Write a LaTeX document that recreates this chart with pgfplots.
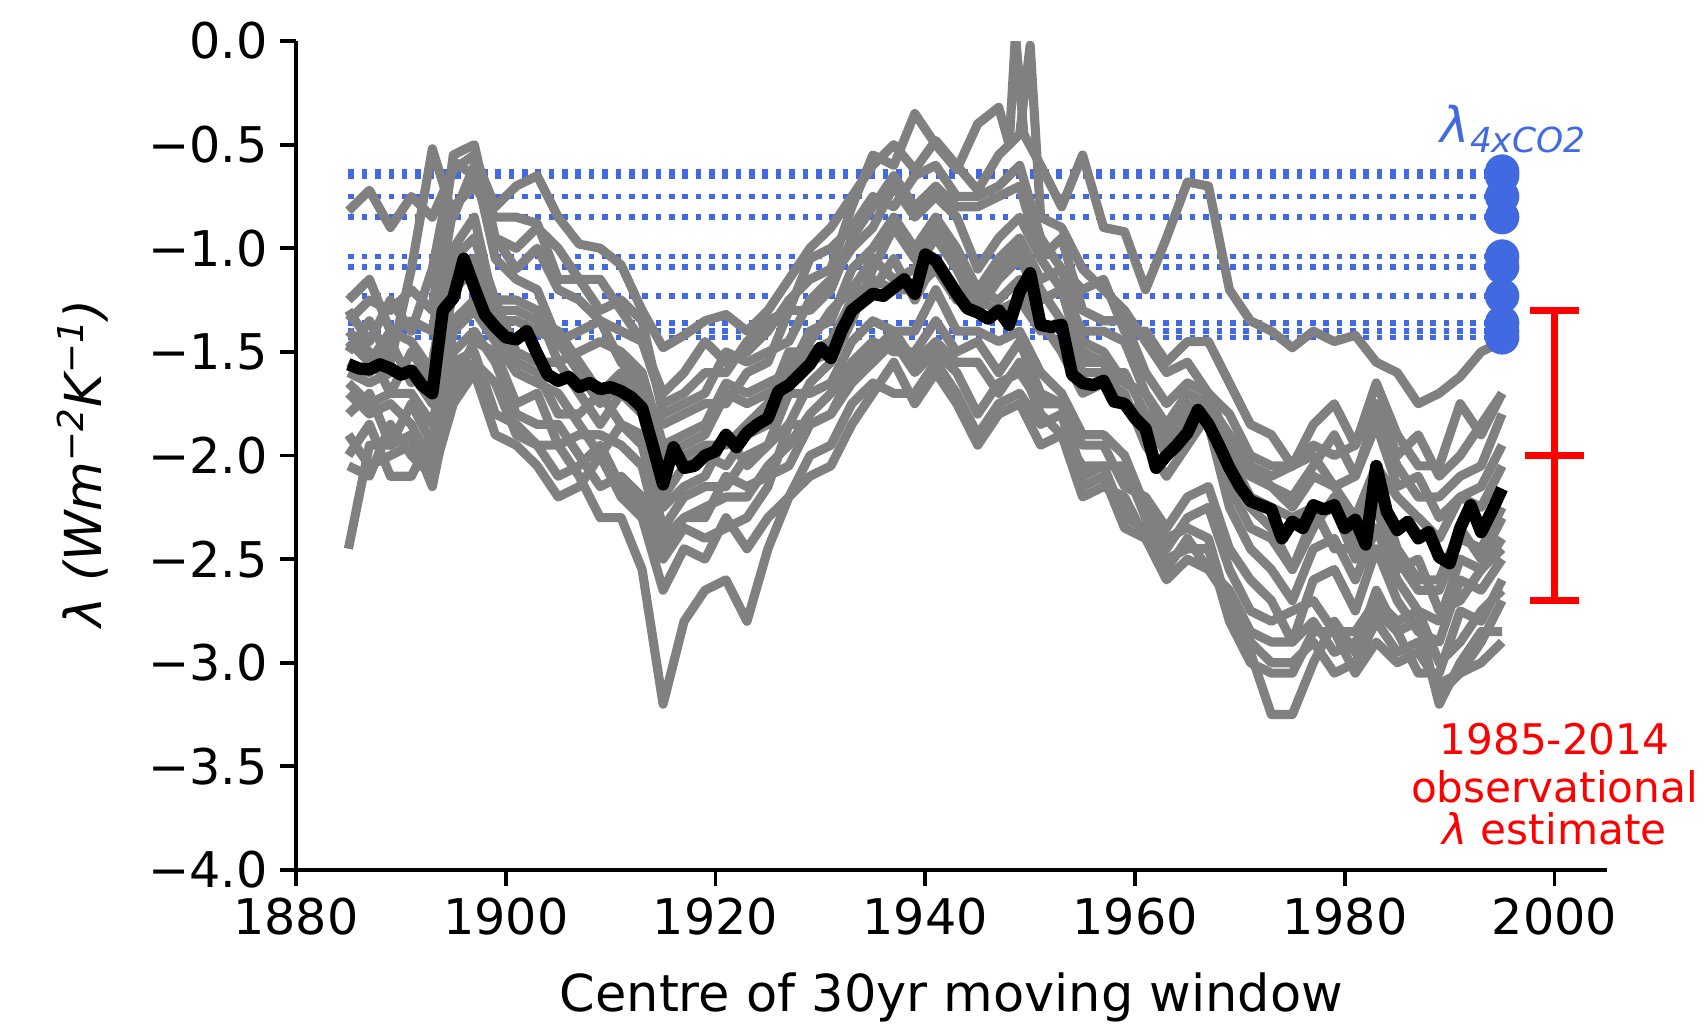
\documentclass[border=0pt]{standalone}
\usepackage{fontspec}
\setmainfont{DejaVu Sans}
\usepackage{pgfplots}
\usepackage{pgfplotstable}
\pgfplotsset{compat=1.18}
\definecolor{royalblue}{HTML}{4169E1}
\definecolor{mgrey}{HTML}{808080}

% ensemble members, lambda in a 30-yr moving window (every second window centre)
\pgfplotstableread{
year  C     D     E     F     G     H     I     J     K     L     M     N     O     P
1885 -2.00 -2.45 -1.35 -1.80 -1.45 -1.70 -1.25 -2.05 -1.60 -1.50 -1.55 -1.90 -1.40 -1.65
1887 -1.85 -1.95 -1.25 -1.70 -1.55 -1.80 -1.15 -2.10 -1.65 -1.35 -1.60 -2.05 -1.50 -1.75
1889 -2.10 -1.95 -1.30 -1.95 -1.40 -1.75 -1.40 -1.85 -1.60 -1.55 -1.45 -2.00 -1.70 -1.70
1891 -2.10 -1.90 -1.20 -1.75 -1.45 -1.85 -1.35 -2.00 -1.60 -1.10 -1.65 -1.95 -1.50 -1.70
1893 -1.90 -2.15 -1.30 -1.95 -1.60 -2.05 -1.40 -2.10 -1.75 -0.52 -1.55 -2.00 -1.65 -1.85
1895 -1.55 -1.65 -0.55 -1.40 -1.05 -1.50 -0.80 -1.75 -1.20 -0.85 -1.00 -1.70 -1.15 -1.35
1897 -1.50 -1.45 -0.50 -1.30 -0.95 -1.40 -0.70 -1.60 -1.10 -0.60 -0.85 -1.55 -1.05 -1.25
1899 -1.80 -1.50 -0.95 -1.45 -1.25 -1.55 -0.85 -1.90 -1.25 -1.05 -1.30 -1.65 -1.35 -1.40
1901 -1.85 -1.75 -1.00 -1.60 -1.25 -1.80 -0.85 -1.95 -1.50 -1.15 -1.30 -1.90 -1.35 -1.55
1903 -1.95 -1.70 -0.90 -1.65 -1.30 -1.85 -0.88 -2.05 -1.55 -1.20 -1.35 -1.95 -1.40 -1.60
1905 -1.95 -1.95 -1.00 -1.70 -1.55 -1.85 -1.15 -2.20 -1.55 -1.45 -1.40 -2.10 -1.45 -1.80
1907 -2.10 -1.90 -1.15 -1.85 -1.50 -2.00 -1.15 -2.15 -1.70 -1.40 -1.55 -2.05 -1.60 -1.80
1909 -2.30 -1.90 -1.30 -2.00 -1.45 -2.15 -1.15 -2.00 -1.85 -1.35 -1.70 -1.95 -1.75 -1.70
1911 -2.30 -1.95 -1.25 -1.85 -1.50 -2.10 -1.30 -2.20 -1.70 -1.55 -1.60 -2.15 -1.65 -1.85
1913 -2.55 -2.05 -1.35 -1.95 -1.60 -2.20 -1.45 -2.30 -1.80 -1.65 -1.70 -2.25 -1.75 -1.90
1915 -3.20 -2.45 -1.80 -2.35 -1.95 -2.50 -1.75 -2.65 -2.20 -2.00 -1.85 -2.40 -2.05 -2.25
1917 -2.80 -2.30 -1.75 -2.20 -1.90 -2.35 -1.70 -2.45 -2.05 -1.95 -1.80 -2.30 -2.00 -2.15
1919 -2.65 -2.25 -1.70 -2.15 -1.85 -2.40 -1.60 -2.50 -2.00 -1.90 -1.75 -2.30 -1.95 -2.10
1921 -2.60 -2.20 -1.50 -2.15 -1.65 -2.35 -1.60 -2.30 -2.05 -1.70 -1.75 -2.10 -1.95 -1.90
1923 -2.80 -2.20 -1.55 -2.00 -1.70 -2.30 -1.45 -2.45 -1.90 -1.75 -1.60 -2.15 -1.85 -2.05
1925 -2.45 -2.05 -1.50 -1.95 -1.65 -2.15 -1.35 -2.30 -1.85 -1.70 -1.55 -2.10 -1.75 -1.95
1927 -2.20 -1.95 -1.45 -1.70 -1.60 -1.85 -1.30 -2.20 -1.55 -1.65 -1.30 -2.05 -1.50 -1.85
1929 -2.10 -1.80 -1.25 -1.70 -1.40 -1.85 -1.05 -2.00 -1.55 -1.45 -1.30 -1.85 -1.50 -1.65
1931 -2.05 -1.70 -1.15 -1.65 -1.35 -1.80 -1.00 -1.95 -1.50 -1.30 -1.20 -1.80 -1.45 -1.55
1933 -1.85 -1.55 -1.00 -1.45 -1.10 -1.60 -0.90 -1.75 -1.30 -1.20 -0.95 -1.65 -1.25 -1.35
1935 -1.70 -1.45 -0.90 -1.35 -1.00 -1.50 -0.75 -1.65 -1.20 -1.05 -0.80 -1.55 -1.15 -1.10
1937 -1.55 -1.50 -0.70 -1.40 -0.85 -1.40 -0.80 -1.70 -1.05 -1.15 -0.65 -1.45 -1.20 -0.90
1939 -1.75 -1.50 -0.85 -1.40 -1.00 -1.55 -0.65 -1.70 -1.25 -1.10 -0.80 -1.60 -1.20 -1.05
1941 -1.60 -1.35 -0.75 -1.20 -0.85 -1.45 -0.60 -1.55 -1.05 -0.95 -0.70 -1.50 -1.10 -0.90
1943 -1.75 -1.50 -0.85 -1.40 -1.00 -1.55 -0.75 -1.70 -1.20 -1.10 -0.80 -1.60 -1.25 -1.05
1945 -1.95 -1.45 -1.10 -1.40 -1.20 -1.55 -0.75 -1.90 -1.20 -1.30 -0.80 -1.80 -1.25 -1.25
1947 -1.80 -1.60 -0.95 -1.45 -1.05 -1.70 -0.70 -1.75 -1.25 -1.15 -0.75 -1.65 -1.30 -1.10
1949 -1.75 -1.45 -0.85 -1.40 -0.95 -1.55 -0.60 -1.70 -1.15 -1.05 -0.70 -1.60 -1.25 -1.00
1951 -1.95 -1.70 -1.05 -1.60 -1.15 -1.80 -0.95 -1.85 -1.35 -1.25 -1.05 -1.75 -1.40 -1.20
1953 -1.90 -1.75 -0.95 -1.70 -1.10 -1.90 -1.10 -1.80 -1.50 -1.20 -1.20 -1.75 -1.35 -1.35
1955 -2.20 -1.95 -1.30 -1.90 -1.45 -2.05 -1.20 -2.15 -1.70 -1.55 -1.40 -2.10 -1.60 -1.50
1957 -2.15 -1.95 -1.35 -1.90 -1.50 -2.05 -1.15 -2.10 -1.65 -1.55 -1.40 -2.05 -1.60 -1.55
1959 -2.20 -2.15 -1.35 -2.00 -1.65 -2.05 -1.40 -2.35 -1.70 -1.75 -1.45 -2.30 -1.60 -1.75
1961 -2.40 -2.20 -1.60 -2.25 -1.70 -2.30 -1.40 -2.40 -1.95 -1.80 -1.70 -2.35 -1.80 -1.80
1963 -2.60 -2.35 -1.75 -2.40 -1.85 -2.45 -1.55 -2.55 -2.10 -1.95 -1.90 -2.50 -1.90 -2.00
1965 -2.50 -2.20 -1.65 -2.35 -1.70 -2.30 -1.45 -2.40 -1.95 -1.80 -1.85 -2.45 -1.75 -1.85
1967 -2.55 -2.15 -1.70 -2.40 -1.75 -2.25 -1.45 -2.55 -1.80 -1.85 -1.70 -2.45 -1.80 -1.85
1969 -2.70 -2.45 -1.80 -2.75 -1.90 -2.55 -1.65 -2.65 -2.15 -2.00 -2.05 -2.80 -1.90 -2.25
1971 -2.90 -2.60 -2.00 -2.95 -2.05 -2.75 -1.85 -2.85 -2.35 -2.20 -2.25 -3.00 -2.05 -2.45
1973 -3.00 -2.70 -2.05 -3.25 -2.15 -2.80 -1.90 -2.90 -2.40 -2.25 -2.35 -3.05 -2.10 -2.55
1975 -3.00 -2.90 -2.05 -3.25 -2.20 -2.75 -2.05 -2.90 -2.55 -2.30 -2.55 -3.05 -2.05 -2.70
1977 -2.90 -2.60 -2.00 -3.00 -2.05 -2.70 -1.85 -2.80 -2.35 -2.25 -2.30 -2.85 -1.95 -2.45
1979 -3.05 -2.55 -2.15 -2.80 -1.90 -2.85 -1.75 -2.95 -2.20 -2.45 -2.25 -2.85 -2.00 -2.40
1981 -3.00 -2.75 -2.10 -2.95 -2.10 -2.85 -1.95 -2.90 -2.40 -2.45 -2.50 -3.05 -1.95 -2.60
1983 -2.80 -2.45 -1.85 -2.65 -1.80 -2.70 -1.65 -2.75 -2.15 -2.25 -2.20 -2.90 -1.75 -2.35
1985 -2.95 -2.70 -2.15 -2.85 -2.05 -2.80 -1.90 -2.85 -2.45 -2.55 -2.50 -3.00 -2.00 -2.60
1987 -2.90 -2.85 -2.10 -3.05 -2.20 -2.75 -2.05 -2.80 -2.60 -2.50 -2.65 -2.95 -1.90 -2.75
1989 -3.15 -2.90 -2.30 -3.05 -2.20 -3.00 -2.05 -3.20 -2.60 -2.75 -2.65 -3.10 -2.10 -2.80
1991 -3.05 -2.60 -2.20 -2.75 -2.10 -2.90 -1.75 -3.00 -2.35 -2.70 -2.40 -3.05 -2.00 -2.50
1993 -2.90 -2.65 -2.15 -2.80 -2.05 -2.75 -1.90 -2.85 -2.50 -2.55 -2.45 -3.00 -1.85 -2.55
1995 -2.70 -2.50 -1.95 -2.60 -1.80 -2.65 -1.70 -2.85 -2.30 -2.40 -2.25 -2.90 -1.70 -2.45
}\ensemble

% two members with a sharp excursion around 1949-1950
\pgfplotstableread{
year lam
1885 -0.82
1887 -0.72
1889 -0.90
1891 -0.75
1893 -0.85
1895 -0.62
1897 -0.55
1899 -0.80
1901 -0.70
1903 -0.65
1905 -0.85
1907 -0.98
1909 -1.00
1911 -1.08
1913 -1.30
1915 -1.48
1917 -1.42
1919 -1.35
1921 -1.32
1923 -1.40
1925 -1.30
1927 -1.15
1929 -1.00
1931 -0.90
1933 -0.75
1935 -0.60
1937 -0.50
1939 -0.62
1941 -0.48
1943 -0.60
1945 -0.72
1947 -0.55
1949 -0.45
1950 -0.02
1951 -0.85
1953 -0.90
1955 -1.10
1957 -1.20
1959 -1.30
1961 -1.45
1963 -1.60
1965 -1.55
1967 -1.70
1969 -1.95
1971 -2.10
1973 -2.15
1975 -2.25
1977 -2.10
1979 -2.15
1981 -2.30
1983 -2.05
1985 -2.20
1987 -2.30
1989 -2.40
1991 -2.20
1993 -2.25
1995 -2.05
}\memberA

\pgfplotstableread{
year lam
1885 -1.30
1887 -1.45
1889 -1.25
1891 -1.40
1893 -1.10
1895 -0.58
1897 -0.65
1899 -0.95
1901 -1.10
1903 -1.00
1905 -1.20
1907 -1.25
1909 -1.35
1911 -1.40
1913 -1.45
1915 -1.70
1917 -1.60
1919 -1.45
1921 -1.55
1923 -1.50
1925 -1.40
1927 -1.25
1929 -1.15
1931 -1.10
1933 -0.80
1935 -0.55
1937 -0.60
1939 -0.35
1941 -0.50
1943 -0.62
1945 -0.40
1947 -0.32
1948 -0.50
1948.6 0.03
1949.4 -0.45
1951 -0.60
1953 -0.80
1955 -0.55
1957 -0.90
1959 -0.92
1961 -1.20
1963 -0.95
1965 -0.68
1967 -0.70
1969 -1.20
1971 -1.35
1973 -1.40
1975 -1.48
1977 -1.40
1979 -1.45
1981 -1.42
1983 -1.55
1985 -1.60
1987 -1.75
1989 -1.70
1991 -1.62
1993 -1.50
1995 -1.45
}\memberB

% ensemble mean
\pgfplotstableread{
year lam
1885 -1.56
1886 -1.58
1887 -1.585
1888 -1.56
1889 -1.58
1890 -1.61
1891 -1.59
1892 -1.66
1893 -1.70
1894 -1.30
1895 -1.24
1896 -1.05
1897 -1.19
1898 -1.32
1899 -1.38
1900 -1.43
1901 -1.44
1902 -1.40
1903 -1.51
1904 -1.61
1905 -1.64
1906 -1.62
1907 -1.67
1908 -1.65
1909 -1.68
1910 -1.67
1911 -1.69
1912 -1.72
1913 -1.77
1914 -1.95
1915 -2.14
1916 -1.96
1917 -2.06
1918 -2.05
1919 -2.00
1920 -1.98
1921 -1.90
1922 -1.96
1923 -1.89
1924 -1.85
1925 -1.82
1926 -1.69
1927 -1.66
1928 -1.61
1929 -1.56
1930 -1.48
1931 -1.53
1932 -1.40
1933 -1.30
1934 -1.26
1935 -1.22
1936 -1.23
1937 -1.19
1938 -1.15
1939 -1.22
1940 -1.03
1941 -1.06
1942 -1.14
1943 -1.22
1944 -1.29
1945 -1.31
1946 -1.34
1947 -1.30
1948 -1.37
1949 -1.21
1950 -1.12
1951 -1.37
1952 -1.38
1953 -1.37
1954 -1.61
1955 -1.65
1956 -1.66
1957 -1.64
1958 -1.74
1959 -1.75
1960 -1.82
1961 -1.87
1962 -2.06
1963 -2.00
1964 -1.95
1965 -1.89
1966 -1.78
1967 -1.85
1968 -1.95
1969 -2.06
1970 -2.15
1971 -2.22
1972 -2.24
1973 -2.26
1974 -2.40
1975 -2.32
1976 -2.35
1977 -2.24
1978 -2.26
1979 -2.24
1980 -2.35
1981 -2.31
1982 -2.43
1983 -2.05
1984 -2.27
1985 -2.36
1986 -2.32
1987 -2.40
1988 -2.37
1989 -2.49
1990 -2.52
1991 -2.35
1992 -2.24
1993 -2.37
1994 -2.27
1995 -2.16
}\ensmean

% abrupt-4xCO2 feedback parameters
\pgfplotstableread{
year lam
1995 -0.63
1995 -0.65
1995 -0.75
1995 -0.85
1995 -1.04
1995 -1.09
1995 -1.23
1995 -1.36
1995 -1.40
1995 -1.43
}\fourx

\begin{document}
\begin{tikzpicture}
\useasboundingbox (-29.6mm,-16.3mm) rectangle (140.9mm,87.0mm);
\begin{axis}[
  at={(0,0)}, anchor=south west,
  scale only axis, width=131.1mm, height=82.9mm,
  xmin=1880, xmax=2005, ymin=-4, ymax=0,
  axis lines=left,
  axis line style={-, line width=1.1pt},
  tick align=outside,
  major tick length=1.6mm,
  tick style={black, line width=1.1pt},
  xtick={1880,1900,1920,1940,1960,1980,2000},
  xticklabels={1880,1900,1920,1940,1960,1980,2000},
  ytick={-4,-3.5,-3,-2.5,-2,-1.5,-1,-0.5,0},
  yticklabels={−4.0,−3.5,−3.0,−2.5,−2.0,−1.5,−1.0,−0.5,0.0},
  tick label style={font=\fontsize{14}{16}\selectfont},
  xlabel={Centre of 30yr moving window},
  ylabel={\textit{λ (Wm\textsuperscript{−2}K\textsuperscript{−1})}},
  label style={font=\fontsize{14.5}{17}\selectfont},
  xlabel style={at={(axis description cs:0.5,-0.171)}, anchor=base},
  ylabel style={at={(axis description cs:-0.163,0.49)}, anchor=center},
  clip mode=individual,
  line join=round,
]
% model lambda_4xCO2 levels
\pgfplotsinvokeforeach{-0.63,-0.65,-0.75,-0.85,-1.04,-1.09,-1.23,-1.36,-1.40,-1.43}{
  \addplot[royalblue, line width=1.6pt, dash pattern=on 1.6pt off 2.2pt]
    coordinates {(1885,#1) (1995,#1)};
}
% ensemble members
\pgfplotsinvokeforeach{C,D,E,F,G,H,I,J,K,L,M,N,O,P}{
  \addplot[mgrey, line width=2.6pt] table[x=year, y=#1] {\ensemble};
}
\addplot[mgrey, line width=2.6pt] table[x=year, y=lam] {\memberA};
\addplot[mgrey, line width=2.6pt] table[x=year, y=lam] {\memberB};
% ensemble mean
\addplot[black, line width=3.5pt] table[x=year, y=lam] {\ensmean};
% lambda_4xCO2 markers
\addplot[only marks, mark=*, mark size=4.7pt, royalblue,
  mark options={draw=royalblue, fill=royalblue}] table[x=year, y=lam] {\fourx};
% observational estimate
\addplot[red, line width=2pt, mark=-, mark size=8.5pt, mark options={line width=2pt},
  error bars/.cd, y dir=both, y explicit,
  error bar style={line width=2pt, red},
  error mark options={rotate=90, line width=2pt, red, mark size=7pt}]
  coordinates {(2000,-2.0) +- (0,0.7)};

\node[anchor=base west, text=royalblue, inner sep=0pt] at (axis cs:1989.1,-0.49)
  {\fontsize{14}{14}\selectfont\itshape λ\raisebox{-1mm}{\fontsize{9.8}{10}\selectfont 4xCO2}};
\node[anchor=base, text=red, inner sep=0pt, font=\fontsize{12}{14}\selectfont] at (axis cs:2000,-3.445) {1985-2014};
\node[anchor=base, text=red, inner sep=0pt, font=\fontsize{12}{14}\selectfont] at (axis cs:2000,-3.672) {observational};
\node[anchor=base, text=red, inner sep=0pt, font=\fontsize{12}{14}\selectfont] at (axis cs:2000,-3.879) {\textit{λ} estimate};
\end{axis}
\end{tikzpicture}
\end{document}
